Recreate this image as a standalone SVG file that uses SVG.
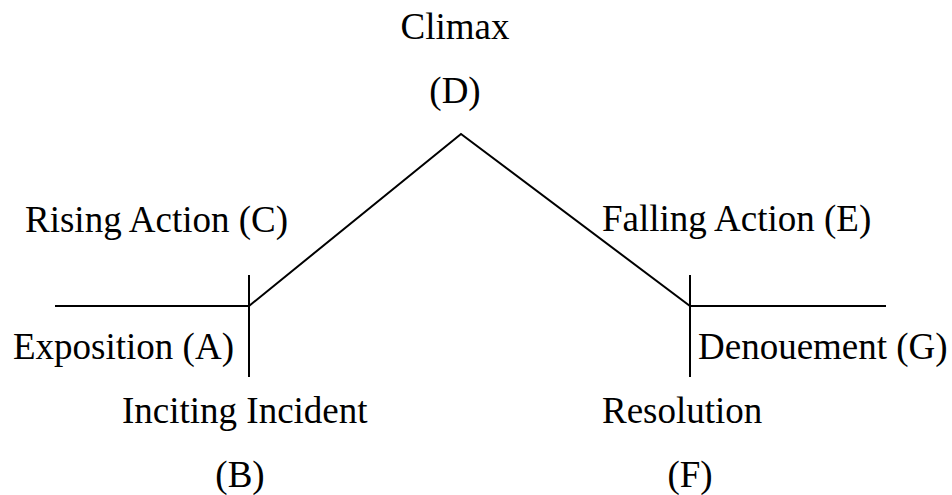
<svg xmlns="http://www.w3.org/2000/svg" width="952" height="495" viewBox="0 0 952 495">
<style>
text{font-family:"Liberation Serif","Times New Roman",serif;font-size:37px;fill:#000}
.ln{stroke:#000;stroke-width:2;fill:none}
</style>
<rect width="952" height="495" fill="#fff"/>
<g id="connectors">
<polyline class="ln" points="55,306 249,306 461,134 690,306 886,306"/>
<line class="ln" x1="249" y1="275" x2="249" y2="377"/>
<line class="ln" x1="690" y1="275" x2="690" y2="377"/>
</g>
<g id="climax"><text x="455" y="39" text-anchor="middle">Climax</text><text x="455" y="103" text-anchor="middle">(D)</text></g>
<g id="rising"><text x="25" y="232">Rising Action (C)</text></g>
<g id="falling"><text x="602" y="231">Falling Action (E)</text></g>
<g id="exposition"><text x="13" y="359">Exposition (A)</text></g>
<g id="denouement"><text x="698" y="359">Denouement (G)</text></g>
<g id="inciting"><text x="122" y="423">Inciting Incident</text><text x="240" y="487" text-anchor="middle">(B)</text></g>
<g id="resolution"><text x="602" y="423">Resolution</text><text x="690" y="487" text-anchor="middle">(F)</text></g>
</svg>
